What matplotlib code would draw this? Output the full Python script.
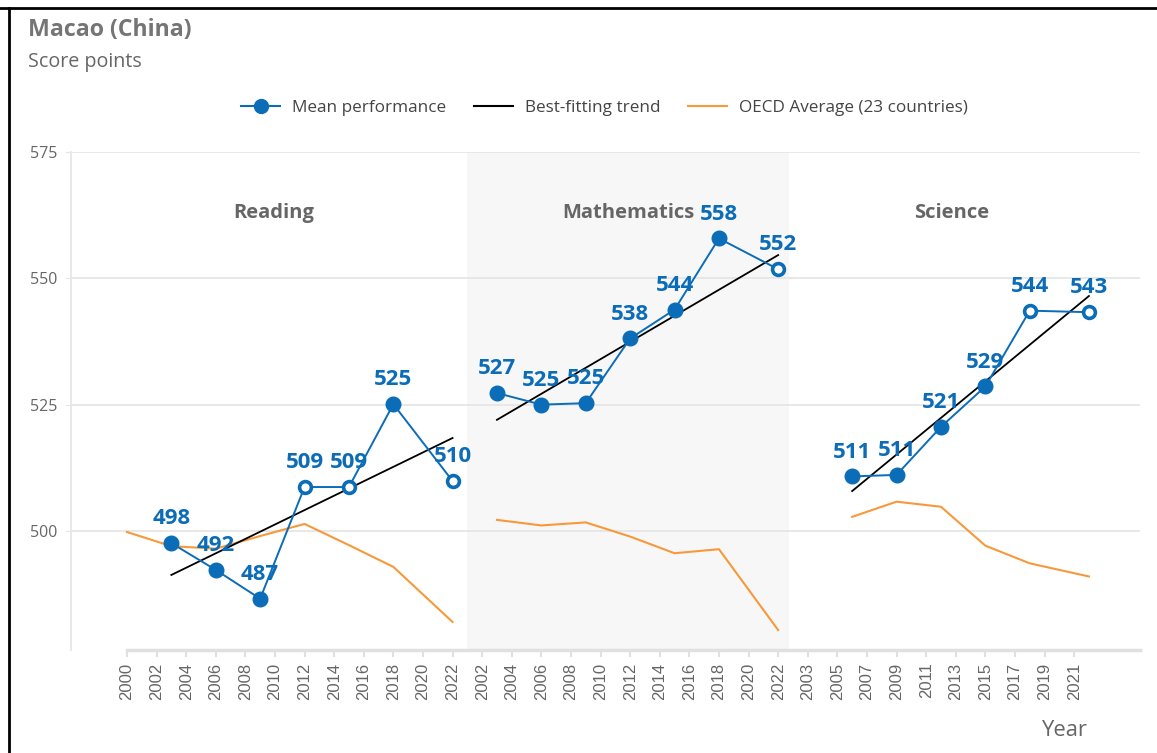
import matplotlib.pyplot as plt
from matplotlib.lines import Line2D

plt.rcParams['font.family'] = ['Open Sans', 'DejaVu Sans']

# tick labels of the three panels (one shared x axis)
reading_ticks = [2000, 2002, 2004, 2006, 2008, 2010, 2012, 2014, 2016, 2018, 2020, 2022]
math_ticks = [2002, 2004, 2006, 2008, 2010, 2012, 2014, 2016, 2018, 2020, 2022]
science_ticks = [2003, 2005, 2007, 2009, 2011, 2013, 2015, 2017, 2019, 2021]

# mean performance
reading_years = [2003, 2006, 2009, 2012, 2015, 2018, 2022]
reading_mean = [497.6, 492.3, 486.6, 508.7, 508.7, 525.1, 509.9]
reading_open = [False, False, False, True, True, False, True]
math_years = [2003, 2006, 2009, 2012, 2015, 2018, 2022]
math_mean = [527.3, 525.0, 525.3, 538.1, 543.8, 557.9, 551.8]
math_open = [False, False, False, False, False, False, True]
science_years = [2006, 2009, 2012, 2015, 2018, 2022]
science_mean = [510.8, 511.1, 520.6, 528.6, 543.6, 543.3]
science_open = [False, False, False, False, True, True]

# OECD average (23 countries)
reading_oecd_years = [2000, 2003, 2006, 2009, 2012, 2015, 2018, 2022]
reading_oecd = [499.8, 497.0, 496.5, 499.0, 501.4, 497.2, 492.9, 482.0]
math_oecd = [502.2, 501.1, 501.7, 498.9, 495.6, 496.4, 480.4]
science_oecd = [502.8, 505.8, 504.8, 497.1, 493.6, 491.0]

# best-fitting trend (end points)
reading_trend_years = [2003, 2022]
reading_trend = [491.3, 518.4]
math_trend_years = [2003, 2022]
math_trend = [522.0, 554.6]
science_trend_years = [2006, 2022]
science_trend = [507.9, 546.5]

panel_names = ['Reading', 'Mathematics', 'Science']

BLUE = '#0b6cb8'
ORANGE = '#f7993b'
GRID = '#e6e6e6'
GREY = '#666666'

W, H = 1157, 753
fig = plt.figure(figsize=(W / 100, H / 100), dpi=100)
ax = fig.add_axes([71 / W, 1 - 650 / H, (1140 - 71) / W, (650 - 152) / H])
ax.set_xlim(-3.78, 68.45)
ax.set_ylim(476.45, 575)

panels = [
    (reading_ticks, reading_years, reading_mean, reading_open, reading_oecd_years, reading_oecd,
     reading_trend_years, reading_trend),
    (math_ticks, math_years, math_mean, math_open, math_years, math_oecd,
     math_trend_years, math_trend),
    (science_ticks, science_years, science_mean, science_open, science_years, science_oecd,
     science_trend_years, science_trend),
]

tick_pos, tick_lab = [], []
start = 0
for ticks, yrs, mean, opn, oyrs, oecd, tyrs, trend in panels:
    x0 = ticks[0]
    tick_pos += [start + t - x0 for t in ticks]
    tick_lab += [str(t) for t in ticks]
    xs = [start + y - x0 for y in yrs]
    ax.plot([start + y - x0 for y in oyrs], oecd, color=ORANGE, lw=1.5, zorder=2)
    ax.plot([start + y - x0 for y in tyrs], trend, color='black', lw=1.3, zorder=3)
    ax.plot(xs, mean, color=BLUE, lw=1.4, zorder=4)
    for x, v, o in zip(xs, mean, opn):
        if o:
            ax.plot(x, v, 'o', ms=8.5, mfc='white', mec=BLUE, mew=2.6, zorder=5)
        else:
            ax.plot(x, v, 'o', ms=10.5, mfc=BLUE, mec=BLUE, zorder=5)
        ax.annotate(f'{round(v)}', (x, v), xytext=(0, 17.5), textcoords='offset points',
                    ha='center', va='center', color=BLUE, fontsize=16, fontweight='bold', zorder=6)
    start += 2 * len(ticks)

# shaded mathematics panel
ax.axvspan(23, 44.7, color='#f7f7f7', zorder=0.1, lw=0)

for name, xc in zip(panel_names, [9.9, 33.9, 55.7]):
    ax.text(xc, 562.9, name, ha='center', va='center', color=GREY, fontsize=14.5, fontweight='bold')

ax.set_xticks(tick_pos)
ax.set_xticklabels(tick_lab, rotation=90, family='Liberation Sans')
ax.set_yticks([500, 525, 550, 575])
ax.grid(axis='y', color=GRID, lw=1.3)
ax.set_axisbelow(True)
for s in ['top', 'right']:
    ax.spines[s].set_visible(False)
ax.spines['left'].set_color(GRID)
ax.spines['left'].set_linewidth(1.3)
ax.spines['bottom'].set_color('#e0e0e0')
ax.spines['bottom'].set_linewidth(2.5)
ax.spines['bottom'].set_bounds(0, 68.45)
ax.tick_params(axis='y', length=4, color=GRID, labelcolor=GREY, labelsize=11.5, pad=6)
ax.tick_params(axis='x', length=5, width=1.5, color='#e0e0e0', labelcolor=GREY, labelsize=12, pad=4)

handles = [Line2D([], [], color=BLUE, marker='o', ms=10, lw=1.5),
           Line2D([], [], color='black', lw=1.5),
           Line2D([], [], color=ORANGE, lw=1.5)]
fig.legend(handles, ['Mean performance', 'Best-fitting trend', 'OECD Average (23 countries)'],
           loc='center', bbox_to_anchor=(0.5225, 1 - 108 / H), ncol=3, frameon=False,
           fontsize=12.3, handlelength=2.3, columnspacing=1.6, handletextpad=0.7, labelcolor='#444444')

fig.text(28 / W, 1 - 30 / H, 'Macao (China)', ha='left', va='center', color='#757575',
         fontsize=16.7, fontweight='bold')
fig.text(28 / W, 1 - 62 / H, 'Score points', ha='left', va='center', color=GREY, fontsize=14.2)
fig.text(1088 / W, 1 - 731 / H, 'Year', ha='right', va='center', color=GREY, fontsize=15.8)

# frame of the screenshot
fig.add_artist(Line2D([0, 1], [1 - 7.5 / H] * 2, transform=fig.transFigure, color='black', lw=2))
fig.add_artist(Line2D([8.5 / W] * 2, [0, 1 - 7.5 / H], transform=fig.transFigure, color='black', lw=2))

fig.savefig('out.png', dpi=100)
